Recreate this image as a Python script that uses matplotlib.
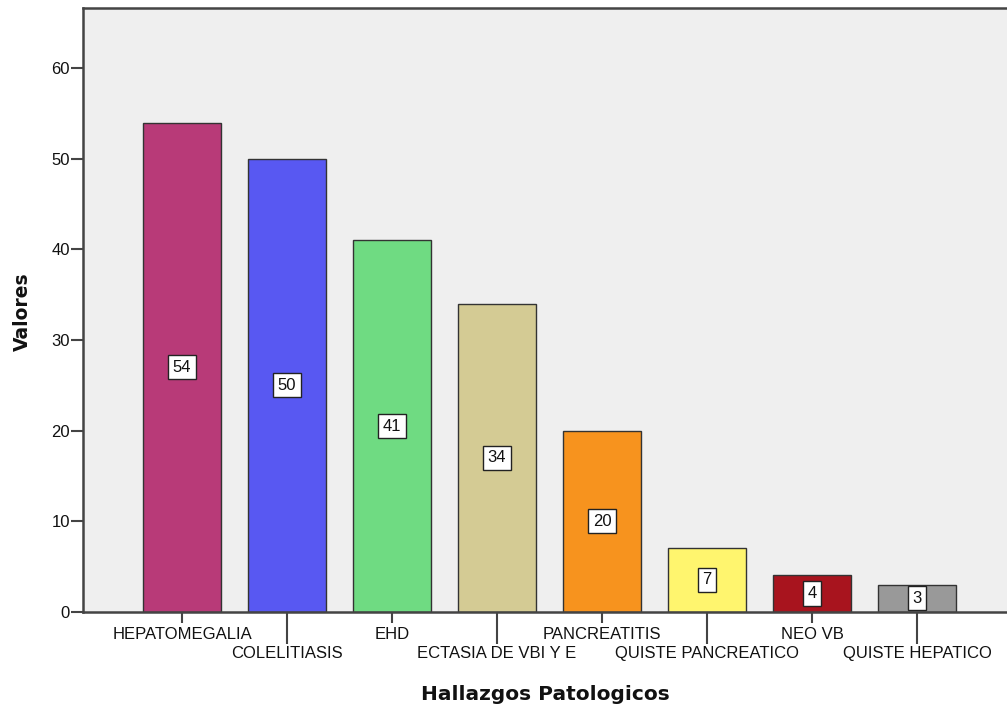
import matplotlib
matplotlib.use("Agg")
import matplotlib.pyplot as plt
import numpy as np

categories = ["HEPATOMEGALIA", "COLELITIASIS", "EHD", "ECTASIA DE VBI Y E",
              "PANCREATITIS", "QUISTE PANCREATICO", "NEO VB", "QUISTE HEPATICO"]
values = [54, 50, 41, 34, 20, 7, 4, 3]
colors = ["#B83A78", "#5858F2", "#6FDB82", "#D4CB94",
          "#F7931E", "#FFF56E", "#A8141E", "#999999"]
yticks = [0, 10, 20, 30, 40, 50, 60]

fig = plt.figure(figsize=(10.07, 7.11), dpi=100)
ax = fig.add_axes([83 / 1007, 99.3 / 711, 1 - 83 / 1007, 604.2 / 711])
ax.set_facecolor("#EFEFEF")

x = np.arange(len(categories))
ax.bar(x, values, width=0.752, color=colors, edgecolor="#333333", linewidth=1.0, zorder=2)

for xi, v in zip(x, values):
    ax.text(xi, v / 2, str(v), ha="center", va="center", fontsize=12,
            family="Liberation Sans", color="#111111", zorder=3,
            bbox=dict(boxstyle="square,pad=0.28", facecolor="white",
                      edgecolor="#222222", linewidth=1.0))

ax.set_xlim(-0.943, 7.857)
ax.set_ylim(0, 66.7)

# staggered category labels: even positions on the first row, odd on the second
even = x[0::2]
odd = x[1::2]
ax.set_xticks(even, [categories[i] for i in even])
ax.set_xticks(odd, [categories[i] for i in odd], minor=True)
ax.tick_params(axis="x", which="major", length=8, width=1.5, pad=3, color="#444444")
ax.tick_params(axis="x", which="minor", length=23, width=1.5, pad=1.5, color="#444444")
for lab in ax.get_xticklabels(which="both"):
    lab.set_fontfamily("Liberation Sans")
    lab.set_fontsize(12)
    lab.set_color("#111111")

ax.set_yticks(yticks)
ax.tick_params(axis="y", length=8.5, width=1.5, pad=1, color="#444444")
for lab in ax.get_yticklabels():
    lab.set_fontfamily("Liberation Sans")
    lab.set_fontsize(12)
    lab.set_color("#111111")

for side in ["left", "bottom", "top"]:
    ax.spines[side].set_color("#444444")
    ax.spines[side].set_linewidth(1.8)
ax.spines["right"].set_visible(False)

fig.text(545 / 1007, 1 - 694 / 711, "Hallazgos Patologicos", ha="center", va="center",
         fontsize=14.5, fontweight="bold", family="DejaVu Sans", color="#111111")
fig.text(22 / 1007, 1 - 312 / 711, "Valores", ha="center", va="center", rotation=90,
         fontsize=13.5, fontweight="bold", family="DejaVu Sans", color="#111111")

fig.savefig("out.png", dpi=100)
